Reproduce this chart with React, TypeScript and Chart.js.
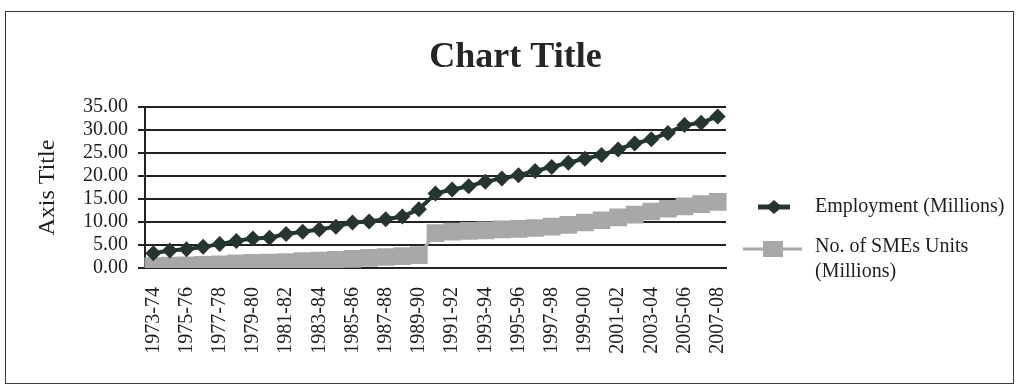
import React, { useEffect, useRef } from "react";
import { Chart, registerables } from "chart.js";

Chart.register(...registerables);

const categories = [
  "1973-74", "1974-75", "1975-76", "1976-77", "1977-78", "1978-79", "1979-80",
  "1980-81", "1981-82", "1982-83", "1983-84", "1984-85", "1985-86", "1986-87",
  "1987-88", "1988-89", "1989-90", "1990-91", "1991-92", "1992-93", "1993-94",
  "1994-95", "1995-96", "1996-97", "1997-98", "1998-99", "1999-00", "2000-01",
  "2001-02", "2002-03", "2003-04", "2004-05", "2005-06", "2006-07", "2007-08",
];

const employment = [
  3.2, 3.8, 4.1, 4.6, 5.2, 5.9, 6.4, 6.6, 7.4, 7.9, 8.4, 9.0, 9.9, 10.1, 10.6,
  11.2, 12.8, 16.2, 17.1, 17.8, 18.8, 19.5, 20.2, 21.1, 22.0, 22.9, 23.8, 24.6,
  25.8, 27.1, 28.0, 29.4, 31.1, 31.6, 33.0,
];

const smeUnits = [
  0.4, 0.5, 0.6, 0.7, 0.8, 1.0, 1.1, 1.2, 1.3, 1.5, 1.6, 1.8, 2.0, 2.2, 2.4,
  2.6, 2.8, 7.6, 7.9, 8.1, 8.2, 8.4, 8.5, 8.7, 9.0, 9.4, 9.9, 10.4, 11.0, 11.6,
  12.3, 12.9, 13.4, 13.9, 14.4,
];

const seriesNames = ["Employment (Millions)", "No. of SMEs Units", "(Millions)"];
const chartTitle = "Chart Title";
const yAxisTitle = "Axis Title";

const SERIF = '"Liberation Serif", "Times New Roman", serif';
const DARK = "#263530";
const GRAY = "#a8a8a8";
const TEXT = "#1e1e1e";

const legendPlugin = {
  id: "customLegend",
  afterDraw(chart: any) {
    const { ctx, chartArea } = chart;
    const x0 = chartArea.right;
    ctx.save();
    // Employment row
    const y1 = 207;
    ctx.strokeStyle = DARK;
    ctx.lineWidth = 5;
    ctx.beginPath();
    ctx.moveTo(x0 + 32, y1);
    ctx.lineTo(x0 + 64, y1);
    ctx.stroke();
    ctx.fillStyle = DARK;
    ctx.beginPath();
    const cx = x0 + 48;
    ctx.moveTo(cx - 8, y1);
    ctx.lineTo(cx, y1 - 7);
    ctx.lineTo(cx + 8, y1);
    ctx.lineTo(cx, y1 + 7);
    ctx.closePath();
    ctx.fill();
    ctx.fillStyle = TEXT;
    ctx.font = `20px ${SERIF}`;
    ctx.textBaseline = "middle";
    ctx.textAlign = "left";
    ctx.fillText(seriesNames[0], x0 + 89, y1);

    // SME row
    const y2 = 249;
    ctx.strokeStyle = GRAY;
    ctx.lineWidth = 3;
    ctx.beginPath();
    ctx.moveTo(x0 + 17, y2);
    ctx.lineTo(x0 + 76, y2);
    ctx.stroke();
    ctx.fillStyle = GRAY;
    ctx.fillRect(x0 + 37, y2 - 8, 20, 16);
    ctx.fillStyle = TEXT;
    ctx.fillText(seriesNames[1], x0 + 89, y2 - 2);
    ctx.fillText(seriesNames[2], x0 + 89, y2 + 23);
    ctx.restore();
  },
};

export default function App() {
  const canvasRef = useRef<HTMLCanvasElement | null>(null);

  useEffect(() => {
    const canvas = canvasRef.current;
    if (!canvas) return;
    const chart = new Chart(canvas, {
      type: "line",
      data: {
        labels: categories,
        datasets: [
          {
            label: seriesNames[0],
            data: employment,
            borderColor: DARK,
            backgroundColor: DARK,
            borderWidth: 4,
            pointStyle: "rectRot",
            pointRadius: 8,
            pointBorderWidth: 0,
            tension: 0,
            yAxisID: "y",
          },
          {
            label: seriesNames[1] + " " + seriesNames[2],
            data: smeUnits,
            borderColor: GRAY,
            backgroundColor: GRAY,
            borderWidth: 3,
            pointStyle: "rect",
            pointRadius: 12.5,
            pointBorderWidth: 0,
            tension: 0,
            yAxisID: "y",
          },
        ],
      },
      options: {
        responsive: false,
        animation: false,
        devicePixelRatio: 1,
        layout: { padding: { left: 0, right: 0, top: 0, bottom: 0 } },
        plugins: {
          legend: { display: false },
          tooltip: { enabled: false },
          title: {
            display: true,
            text: chartTitle,
            color: "#262626",
            font: { family: SERIF, size: 36, weight: "bold" },
            padding: { top: 36, bottom: 28 },
          },
        },
        scales: {
          x: {
            type: "category",
            offset: true,
            grid: { display: false, drawTicks: false },
            border: { display: true, color: "#222", width: 2 },
            ticks: {
              autoSkip: false,
              maxRotation: 90,
              minRotation: 90,
              padding: 19,
              color: TEXT,
              font: { family: SERIF, size: 20 },
              callback: (_v: any, i: number) => (i % 2 === 0 ? categories[i] : ""),
            },
            afterFit: (s: any) => {
              s.height = 118;
            },
          },
          y: {
            type: "linear",
            position: "left",
            min: 0,
            max: 35,
            ticks: {
              stepSize: 5,
              autoSkip: false,
              padding: 10,
              color: TEXT,
              font: { family: SERIF, size: 20, lineHeight: 1 },
              callback: (v: any) => Number(v).toFixed(2),
            },
            grid: { color: "#222", lineWidth: 2, tickLength: 7, drawTicks: true },
            border: { display: true, color: "#222", width: 2 },
            title: {
              display: true,
              text: yAxisTitle,
              color: TEXT,
              font: { family: SERIF, size: 24 },
              padding: { top: 33, bottom: 0 },
            },
            afterFit: (s: any) => {
              s.width = 145;
            },
          },
          spacer: {
            type: "linear",
            position: "right",
            display: true,
            grid: { display: false, drawTicks: false },
            border: { display: false },
            ticks: { display: false },
            afterFit: (s: any) => {
              s.width = 305;
            },
          },
        },
      },
      plugins: [legendPlugin],
    } as any);
    return () => chart.destroy();
  }, []);

  return (
    <div style={{ position: "absolute", left: 0, top: 0, width: 1031, height: 386, background: "#fff" }}>
      <canvas ref={canvasRef} width={1031} height={386} style={{ width: 1031, height: 386, display: "block" }} />
      <div
        style={{
          position: "absolute",
          left: 5,
          top: 11,
          width: 1007,
          height: 371,
          border: "1px solid #3a3a3a",
          pointerEvents: "none",
        }}
      />
    </div>
  );
}
